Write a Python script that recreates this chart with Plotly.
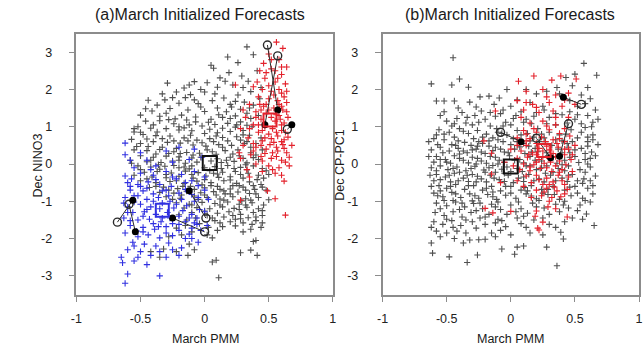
import plotly.graph_objects as go

# ---------------- data ----------------
x_ticks = [-1, -0.5, 0, 0.5, 1]
x_tick_text = ["-1", "-0.5", "0", "0.5", "1"]
y_ticks = [-3, -2, -1, 0, 1, 2, 3]
y_tick_text = ["-3", "-2", "-1", "0", "1", "2", "3"]

a_gray_pts = [
    (0.33,3.14),(0.18,2.87),(0.38,2.93),(0.05,2.65),(0.26,2.72),(0.07,2.57),(0.19,2.45),(0.41,2.5),
    (-0.08,2.21),(0.12,2.31),(0.29,2.36),(-0.29,2.17),(-0.16,2.04),(0.02,2.18),(0.1,2.06),(0.22,2.12),(0.34,2.22),(-0.03,2.0),(0.44,2.05),
    (-0.22,1.93),(-0.11,1.86),(0.0,1.93),(0.26,1.85),(0.36,1.94),(0.15,1.77),(0.06,1.7),(-0.05,1.62),(-0.2,1.63),(-0.31,1.72),(-0.44,1.71),(0.31,1.66),(0.2,1.6),(-0.37,1.58),(0.43,1.75),(-0.15,1.78),
    (-0.27,1.49),(-0.13,1.45),(0.0,1.41),(0.1,1.5),(0.21,1.53),(0.38,1.58),(0.42,1.3),(0.33,1.36),(0.24,1.29),(0.14,1.25),(0.05,1.2),(-0.07,1.26),(-0.18,1.31),(-0.3,1.36),(-0.41,1.42),(-0.5,1.31),(-0.23,1.21),(0.28,1.47),(-0.46,1.48),(0.17,1.4),(-0.03,1.53),
    (-0.46,1.15),(-0.35,1.16),(-0.24,1.08),(-0.12,1.05),(-0.02,1.02),(0.08,1.06),(0.18,1.09),(0.28,1.13),(0.37,1.0),(0.3,0.9),(0.2,0.87),(0.1,0.84),(0.0,0.82),(-0.1,0.89),(-0.2,0.91),(-0.3,0.95),(-0.42,0.96),(-0.52,1.0),(-0.55,0.86),(-0.37,0.86),(-0.16,0.97),(0.04,0.93),(0.24,0.99),(0.14,0.96),(-0.07,1.13),(0.33,1.04),(-0.28,1.19),(-0.5,0.85),
    (-0.48,0.79),(-0.38,0.76),(-0.27,0.75),(-0.16,0.7),(-0.06,0.64),(0.04,0.68),(0.14,0.71),(0.25,0.73),(0.35,0.77),(0.4,0.55),(0.31,0.55),(0.21,0.5),(0.11,0.52),(0.01,0.48),(-0.09,0.51),(-0.19,0.56),(-0.29,0.58),(-0.4,0.6),(-0.5,0.55),(-0.33,0.45),(-0.22,0.42),(-0.13,0.62),(0.07,0.6),(0.18,0.62),(0.28,0.64),(-0.44,0.47),(0.44,0.7),(-0.02,0.57),(0.36,0.45),(-0.57,0.66),
    (-0.55,0.38),(-0.45,0.36),(-0.35,0.39),(-0.24,0.33),(-0.14,0.31),(-0.04,0.29),(0.06,0.33),(0.16,0.36),(0.26,0.38),(0.36,0.3),(0.3,0.15),(0.2,0.18),(0.1,0.14),(-0.1,0.16),(-0.2,0.19),(-0.3,0.21),(-0.4,0.18),(-0.5,0.22),(-0.45,0.06),(-0.34,0.04),(-0.25,0.08),(-0.15,0.02),(-0.06,0.05),(0.13,0.04),(0.23,0.07),(0.33,0.03),(0.42,0.12),(-0.58,0.1),(0.09,0.26),(-0.19,0.28),(0.22,0.27),(0.4,0.24),(-0.38,0.27),(-0.03,0.18),
    (-0.52,-0.05),(-0.42,-0.08),(-0.31,-0.06),(-0.2,-0.1),(-0.1,-0.05),(0.08,-0.07),(0.18,-0.04),(0.28,-0.09),(0.38,-0.05),(0.45,-0.12),(-0.47,-0.22),(-0.37,-0.2),(-0.26,-0.24),(-0.15,-0.19),(-0.05,-0.23),(0.04,-0.18),(0.14,-0.22),(0.24,-0.2),(0.34,-0.25),(0.42,-0.3),(-0.55,-0.3),(-0.41,-0.35),(-0.3,-0.37),(-0.2,-0.33),(-0.09,-0.38),(0.01,-0.32),(0.11,-0.36),(0.2,-0.34),(0.3,-0.38),(0.5,-0.28),(-0.12,-0.13),(0.23,-0.12),(0.33,-0.15),(-0.35,-0.14),(0.1,-0.27),(-0.24,-0.04),
    (-0.5,-0.45),(-0.38,-0.5),(-0.27,-0.47),(-0.16,-0.52),(-0.06,-0.46),(0.05,-0.5),(0.15,-0.45),(0.25,-0.52),(0.35,-0.48),(0.44,-0.55),(-0.43,-0.63),(-0.32,-0.62),(-0.21,-0.66),(-0.11,-0.6),(0.0,-0.64),(0.1,-0.6),(0.2,-0.67),(0.3,-0.62),(0.39,-0.68),(0.48,-0.7),(-0.35,-0.76),(-0.24,-0.78),(-0.03,-0.77),(0.07,-0.74),(0.16,-0.8),(0.26,-0.75),(0.35,-0.79),(-0.14,-0.73),(0.22,-0.58),(-0.02,-0.56),(0.12,-0.68),(0.41,-0.42),
    (-0.3,-0.88),(-0.19,-0.92),(-0.08,-0.86),(0.02,-0.9),(0.12,-0.94),(0.22,-0.88),(0.32,-0.93),(0.42,-0.9),(0.5,-0.96),(-0.22,-1.04),(-0.12,-1.08),(-0.02,-1.03),(0.08,-1.06),(0.18,-1.02),(0.27,-1.08),(0.37,-1.04),(0.46,-1.1),(-0.06,-1.17),(0.04,-1.2),(0.14,-1.15),(0.23,-1.19),(0.33,-1.16),(0.42,-1.2),(-0.16,-1.18),(0.29,-0.99),(0.09,-0.83),
    (-0.1,-1.3),(0.1,-1.32),(0.19,-1.28),(0.28,-1.35),(0.38,-1.3),(0.45,-1.38),(-0.2,-1.36),(0.06,-1.45),(0.15,-1.42),(0.24,-1.48),(0.34,-1.44),(0.4,-1.52),(-0.14,-1.5),(0.12,-1.58),(0.3,-1.58),(0.37,-1.62),(-0.04,-1.6),(0.2,-1.55),
    (0.03,-1.7),(0.1,-1.78),(0.36,-1.75),(0.4,-2.05),(-0.1,-1.82),(0.02,-1.9),(-0.22,-1.72),(0.14,-1.68),(-0.28,-1.95),
    (0.38,-2.08),(0.36,-2.31),(-0.22,-2.35),(-0.13,-2.45),(0.28,-2.38),(0.41,-2.45),(-0.08,-2.3),(0.06,-2.63),(-0.32,-2.28),(0.11,-3.05),(0.09,-2.58),(-0.12,-2.15),(-0.35,-2.5),(-0.42,-2.35),
    (-0.33,1.88),(-0.12,2.12),(0.16,2.22),(0.3,2.05),(0.08,1.88),(-0.25,1.78),(0.24,1.68),(-0.08,1.72),(0.35,1.5),(-0.35,1.28),(-0.14,1.18),(0.11,1.32),(0.2,1.22),(0.36,1.22),(-0.4,1.05),
    (-0.2,1.0),(0.03,1.12),(0.25,1.05),(-0.55,0.95),(-0.33,0.68),(-0.11,0.77),(0.09,0.75),(0.3,0.78),(-0.45,0.67),(-0.24,0.62),(0.02,0.38),(0.14,0.45),(0.33,0.6),(-0.53,0.47),(-0.28,0.28),
    (-0.09,0.24),(0.27,0.22),(0.45,0.38),(-0.42,0.1),(-0.2,0.1),(0.05,0.08),(0.17,0.1),(0.38,0.17),(-0.57,0.02),(-0.36,-0.02),(-0.16,-0.08),(0.0,-0.1),(0.13,-0.12),(0.32,-0.02),(0.48,-0.18),
    (-0.5,-0.15),(-0.3,-0.28),(-0.1,-0.28),(0.07,-0.25),(0.28,-0.28),(0.46,-0.38),(-0.45,-0.4),(-0.22,-0.45),(0.0,-0.42),(0.2,-0.43),(0.38,-0.58),(-0.38,-0.6),(-0.17,-0.6),(0.05,-0.58),(0.27,-0.58),
    (0.45,-0.62),(-0.28,-0.7),(-0.08,-0.68),(0.15,-0.72),(0.32,-0.7),(-0.18,-0.83),(0.0,-0.83),(0.2,-0.8),(0.4,-0.8),(-0.25,-0.95),(-0.05,-0.95),(0.15,-0.97),(0.36,-0.97),(-0.1,-1.1),(0.12,-1.1),
    (0.32,-1.1),(0.0,-1.26),(0.27,-1.22),(0.45,-1.25),(0.02,-1.38),(0.22,-1.38),(0.4,-1.42),(0.08,-1.52),(0.28,-1.47),(-0.07,-1.45),(0.24,-1.66),(0.45,-1.58),(-0.15,-1.65),(0.06,-1.98),(-0.18,-1.9),
    (0.3,-1.82),(0.44,-1.7),
]

a_blue_pts = [
    (-0.62,0.56),(-0.62,0.25),(-0.5,0.3),(-0.45,0.1),(-0.3,0.35),(-0.2,0.45),(-0.08,0.4),(-0.02,0.18),(-0.12,0.12),(-0.25,0.05),(-0.38,-0.05),(-0.55,-0.1),
    (-0.62,-0.32),(-0.5,-0.25),(-0.4,-0.3),(-0.3,-0.2),(-0.18,-0.28),(-0.08,-0.2),(0.0,-0.35),(-0.6,-0.5),(-0.52,-0.55),(-0.44,-0.48),(-0.35,-0.55),(-0.26,-0.6),
    (-0.15,-0.5),(-0.05,-0.58),(-0.58,-0.7),(-0.48,-0.72),(-0.4,-0.8),(-0.3,-0.7),(-0.2,-0.78),(-0.1,-0.82),(0.0,-0.7),(-0.62,-0.9),(-0.52,-0.85),(-0.45,-0.95),
    (-0.36,-0.9),(-0.27,-1.0),(-0.18,-0.95),(-0.08,-1.0),(0.03,-0.95),(-0.6,-1.15),(-0.5,-1.08),(-0.42,-1.15),(-0.33,-1.05),(-0.24,-1.18),(-0.14,-1.12),(-0.04,-1.22),
    (-0.56,-1.3),(-0.47,-1.28),(-0.38,-1.35),(-0.29,-1.3),(-0.2,-1.4),(-0.1,-1.35),(0.0,-1.28),(-0.63,-1.45),(-0.52,-1.5),(-0.43,-1.48),(-0.34,-1.55),(-0.25,-1.6),
    (-0.15,-1.55),(-0.06,-1.62),(-0.58,-1.65),(-0.48,-1.7),(-0.39,-1.75),(-0.3,-1.68),(-0.2,-1.78),(-0.1,-1.72),(0.02,-1.65),(-0.62,-1.85),(-0.52,-1.95),(-0.44,-1.9),
    (-0.35,-1.98),(-0.25,-1.92),(-0.15,-2.0),(-0.56,-2.1),(-0.47,-2.15),(-0.38,-2.2),(-0.28,-2.12),(-0.18,-2.25),(-0.6,-2.3),(-0.5,-2.35),(-0.42,-2.45),(-0.65,-2.5),
    (-0.64,-2.65),(-0.55,-2.6),(-0.45,-2.7),(-0.3,-2.5),(-0.2,-2.45),(-0.6,-2.95),(-0.62,-3.2),(-0.35,-3.0),(-0.05,-2.1),(-0.1,-0.45),(-0.45,-0.65),(-0.55,-1.02),
    (-0.33,-1.45),(-0.12,-1.88),(-0.22,-0.4),(-0.57,-0.4),(-0.48,-1.4),(-0.4,-1.6),(-0.53,-1.8),(-0.28,-0.85),(-0.06,-1.45),(-0.17,-1.25),
    (-0.58,0.1),(-0.42,-0.15),(-0.25,-0.35),(-0.5,-0.6),(-0.33,-0.72),(-0.15,-0.68),(-0.55,-0.85),(-0.4,-1.0),(-0.22,-1.08),(-0.05,-0.9),(-0.6,-1.3),(-0.45,-1.22),
    (-0.27,-1.45),(-0.12,-1.45),(-0.58,-1.52),(-0.36,-1.68),(-0.2,-1.62),(-0.03,-1.78),(-0.48,-1.82),(-0.3,-1.85),(-0.1,-2.0),(-0.55,-2.2),(-0.35,-2.35),(-0.52,-2.5),
    (-0.25,-2.3),(-0.58,-0.6),(-0.38,-0.42),(-0.63,-1.05),(-0.35,-1.2),(-0.08,-1.58),
]

a_red_pts = [
    (0.56,3.27),(0.61,3.1),(0.5,2.95),(0.58,2.8),(0.64,2.6),(0.43,2.5),(0.52,2.55),(0.6,2.4),(0.47,2.3),(0.55,2.2),(0.63,2.15),(0.38,2.07),
    (0.24,2.12),(0.45,2.0),(0.52,1.95),(0.6,1.9),(0.42,1.8),(0.5,1.75),(0.57,1.7),(0.64,1.65),(0.35,1.6),(0.46,1.55),(0.54,1.5),(0.61,1.45),
    (0.4,1.4),(0.48,1.35),(0.58,1.3),(0.65,1.25),(0.32,1.25),(0.44,1.2),(0.55,1.15),(0.62,1.1),(0.38,1.05),(0.47,1.0),(0.53,0.95),(0.6,0.9),
    (0.28,0.95),(0.42,0.85),(0.5,0.8),(0.57,0.75),(0.65,0.72),(0.34,0.7),(0.45,0.62),(0.54,0.58),(0.61,0.52),(0.3,0.5),(0.4,0.45),(0.48,0.4),
    (0.57,0.35),(0.64,0.3),(0.36,0.25),(0.44,0.2),(0.52,0.15),(0.6,0.1),(0.28,0.15),(0.4,0.0),(0.5,-0.05),(0.58,-0.1),(0.66,-0.05),(0.33,-0.15),
    (0.45,-0.2),(0.55,-0.25),(0.62,-0.46),(0.35,-0.35),(0.49,-0.72),(0.55,-0.93),(0.28,-0.97),(0.63,-1.37),(0.46,2.7),(0.55,2.5),(0.5,2.1),(0.58,1.6),
    (0.44,1.45),(0.52,1.25),(0.47,0.7),(0.38,0.55),(0.62,0.65),(0.3,1.45),(0.27,0.3),(0.58,2.0),(0.68,0.5),(0.42,1.05),(0.35,0.95),(0.53,0.3),
    (0.6,1.05),(0.64,1.95),(0.66,0.18),(0.56,0.45),
    (0.52,2.8),(0.6,2.6),(0.48,2.45),(0.57,2.3),(0.41,2.2),(0.62,1.8),(0.54,1.85),(0.48,1.6),(0.6,1.55),(0.43,1.6),(0.5,1.45),(0.64,1.4),
    (0.56,1.32),(0.4,1.25),(0.59,1.2),(0.45,0.9),(0.56,0.85),(0.63,0.85),(0.52,0.68),(0.6,0.6),(0.44,0.5),(0.51,0.52),(0.62,0.42),(0.47,0.28),
    (0.56,0.2),(0.63,0.05),(0.45,0.08),(0.53,-0.15),(0.6,-0.3),(0.38,0.35),
]

b_gray_pts = [
    (-0.45,2.85),(-0.62,2.15),(-0.46,2.12),(-0.4,2.28),(-0.33,2.06),(-0.58,1.69),(-0.52,1.69),(-0.44,1.69),(-0.32,1.66),(-0.24,1.8),(-0.17,1.82),(-0.09,1.77),
    (-0.03,2.0),(-0.41,1.5),(-0.27,1.53),(0.57,2.7),(0.67,2.38),(0.5,2.41),(0.43,2.32),(0.12,2.0),(0.2,1.88),(0.28,1.95),(0.36,2.05),(0.48,2.1),
    (0.6,2.05),(0.55,1.85),(0.62,1.75),(0.46,1.7),(0.38,1.88),(0.05,1.72),(0.15,1.65),(0.25,1.55),(0.52,1.55),(0.66,1.45),(-0.13,1.6),(0.0,1.55),(-0.06,1.45),(0.58,1.62),
    (-0.5,1.15),(-0.42,1.22),(-0.35,1.1),(-0.28,1.3),(-0.2,1.2),(-0.12,1.28),(-0.04,1.12),(0.04,1.3),(0.12,1.2),(0.2,1.38),(0.3,1.25),(0.4,1.32),
    (0.5,1.2),(0.6,1.3),(0.68,1.2),(-0.46,1.02),(-0.38,1.38),(-0.3,1.05),(-0.23,1.42),(-0.16,1.02),(-0.08,1.35),(0.0,1.05),(0.08,1.4),(0.16,1.08),
    (0.26,1.45),(0.35,1.05),(0.46,1.4),(0.55,1.08),(0.63,1.0),(-0.55,1.3),
    (-0.56,0.92),(-0.48,0.85),(-0.4,0.95),(-0.33,0.82),(-0.26,0.9),(-0.19,0.8),(-0.11,0.95),(-0.03,0.78),(0.05,0.9),(0.13,0.82),(0.21,0.95),(0.3,0.85),
    (0.38,0.78),(0.47,0.92),(0.55,0.85),(0.64,0.78),(-0.52,0.65),(-0.44,0.72),(-0.36,0.58),(-0.29,0.68),(-0.22,0.55),(-0.14,0.7),(-0.06,0.6),(0.02,0.68),
    (0.1,0.55),(0.18,0.72),(0.27,0.6),(0.35,0.65),(0.44,0.55),(0.52,0.7),(0.6,0.6),(0.68,0.52),(-0.58,0.78),(-0.46,0.52),(-0.31,0.5),(-0.17,0.62),
    (0.0,0.52),(0.15,0.62),(0.4,0.62),(-0.1,0.85),(0.24,0.8),
    (-0.64,0.6),(-0.62,0.38),(-0.55,0.45),(-0.48,0.35),(-0.41,0.42),(-0.34,0.3),(-0.27,0.4),(-0.2,0.28),(-0.12,0.45),(-0.05,0.32),(0.03,0.4),(0.11,0.28),
    (0.19,0.42),(0.28,0.3),(0.37,0.4),(0.46,0.3),(0.55,0.42),(0.63,0.32),(-0.58,0.2),(-0.51,0.12),(-0.44,0.22),(-0.37,0.1),(-0.3,0.18),(-0.23,0.08),
    (-0.16,0.2),(-0.09,0.1),(-0.01,0.22),(0.07,0.12),(0.15,0.2),(0.24,0.08),(0.33,0.18),(0.42,0.1),(0.5,0.2),(0.58,0.12),(0.66,0.22),(-0.6,0.05),
    (-0.47,0.02),(-0.33,0.03),(-0.19,0.02),(-0.05,0.04),(0.1,0.03),(0.36,0.02),(0.53,0.04),(-0.26,0.48),(0.07,0.46),(-0.4,0.27),(-0.14,0.36),(0.21,0.33),(0.45,0.45),
    (-0.62,-0.1),(-0.55,-0.05),(-0.49,-0.15),(-0.42,-0.08),(-0.35,-0.18),(-0.28,-0.06),(-0.21,-0.16),(-0.14,-0.04),(-0.07,-0.14),(0.05,-0.12),(0.12,-0.05),(0.2,-0.15),
    (0.28,-0.05),(0.37,-0.12),(0.45,-0.05),(0.54,-0.15),(0.62,-0.08),(-0.58,-0.28),(-0.51,-0.35),(-0.44,-0.25),(-0.37,-0.38),(-0.3,-0.28),(-0.23,-0.4),(-0.16,-0.3),
    (-0.09,-0.42),(-0.02,-0.3),(0.06,-0.38),(0.14,-0.28),(0.22,-0.4),(0.31,-0.3),(0.4,-0.38),(0.48,-0.28),(0.57,-0.4),(0.66,-0.32),(-0.6,-0.45),(-0.47,-0.48),
    (-0.33,-0.47),(-0.19,-0.48),(-0.05,-0.47),(0.1,-0.47),(0.26,-0.48),(0.44,-0.47),(-0.4,-0.22),(-0.12,-0.22),(0.0,-0.2),(0.33,-0.22),(-0.26,-0.33),(0.52,-0.45),
    (-0.56,-0.58),(-0.5,-0.65),(-0.43,-0.55),(-0.36,-0.68),(-0.29,-0.58),(-0.22,-0.7),(-0.15,-0.6),(-0.08,-0.72),(0.0,-0.6),(0.08,-0.7),(0.16,-0.58),(0.24,-0.68),
    (0.33,-0.6),(0.42,-0.7),(0.5,-0.6),(0.6,-0.65),(-0.6,-0.78),(-0.53,-0.88),(-0.46,-0.76),(-0.39,-0.9),(-0.32,-0.8),(-0.25,-0.92),(-0.18,-0.82),(-0.11,-0.95),
    (-0.04,-0.84),(0.04,-0.92),(0.12,-0.8),(0.2,-0.93),(0.29,-0.82),(0.38,-0.95),(0.47,-0.85),(0.56,-0.92),(0.64,-0.8),(-0.45,-0.98),(-0.3,-0.99),(-0.14,-0.75),
    (0.25,-0.78),(-0.55,-0.72),(0.11,-0.63),
    (-0.58,-1.05),(-0.5,-1.12),(-0.43,-1.02),(-0.36,-1.15),(-0.29,-1.06),(-0.22,-1.2),(-0.15,-1.08),(-0.08,-1.22),(0.0,-1.1),(0.08,-1.2),(0.17,-1.05),(0.26,-1.18),
    (0.35,-1.08),(0.45,-1.18),(0.54,-1.1),(0.62,-1.02),(-0.59,-1.3),(-0.52,-1.38),(-0.45,-1.28),(-0.38,-1.42),(-0.31,-1.3),(-0.24,-1.45),(-0.17,-1.35),(-0.1,-1.48),
    (-0.03,-1.35),(0.05,-1.45),(0.13,-1.32),(0.3,-1.35),(0.38,-1.28),(0.59,-1.34),(0.56,-1.48),(-0.6,-1.55),(-0.53,-1.62),(-0.46,-1.52),(-0.39,-1.65),(-0.3,-1.55),
    (-0.2,-1.62),(-0.12,-1.58),(-0.04,-1.68),(0.08,-1.6),(0.18,-1.5),(0.3,-1.62),(0.42,-1.55),(0.65,-1.65),(-0.62,-1.7),
    (-0.62,-2.12),(-0.61,-2.39),(-0.48,-2.49),(-0.34,-2.64),(-0.26,-2.44),(-0.37,-2.12),(-0.32,-2.04),(-0.25,-2.03),(-0.2,-2.02),(-0.12,-1.95),(-0.07,-2.28),(0.03,-2.42),
    (0.1,-2.2),(0.05,-2.23),(0.28,-2.23),(0.36,-2.73),(0.41,-2.01),(0.39,-1.83),(-0.5,-1.85),(-0.44,-2.0),(-0.55,-1.95),(0.15,-1.85),(-0.58,-1.8),(-0.42,-1.8),
    (0.0,-1.9),(0.25,-1.9),
    (-0.52,1.4),(-0.34,1.25),(-0.16,1.38),(0.02,1.22),(0.18,1.28),(0.35,1.35),(0.52,1.32),(0.64,1.12),(-0.44,1.08),(-0.25,1.12),(-0.06,1.02),(0.1,1.12),
    (0.28,1.08),(0.44,1.1),(0.58,0.98),(-0.52,0.8),(-0.37,0.88),(-0.22,0.72),(-0.07,0.82),(0.08,0.78),(0.26,0.7),(0.43,0.8),(0.6,0.72),(-0.6,0.68),
    (-0.41,0.62),(-0.25,0.6),(-0.1,0.65),(0.05,0.6),(0.22,0.6),(0.48,0.6),(0.64,0.65),(-0.57,0.52),(-0.43,0.5),(-0.3,0.38),(-0.17,0.48),(-0.08,0.4),
    (0.14,0.48),(0.32,0.5),(0.5,0.38),(0.6,0.48),(-0.53,0.3),(-0.37,0.35),(-0.23,0.32),(-0.02,0.3),(0.16,0.32),(0.4,0.3),(0.58,0.28),(-0.55,0.12),
    (-0.4,0.15),(-0.26,0.15),(-0.12,0.18),(0.03,0.1),(0.19,0.1),(0.29,0.22),(0.46,0.18),(0.62,0.15),(-0.64,0.2),(-0.5,0.05),(-0.27,-0.0),(-0.1,0.0),
    (0.15,-0.05),(0.4,-0.02),(0.6,0.0),(-0.58,-0.18),(-0.45,-0.12),(-0.31,-0.12),(-0.17,-0.1),(-0.03,-0.08),(0.09,-0.2),(0.24,-0.1),(0.42,-0.18),(0.58,-0.22),
    (-0.63,-0.3),(-0.48,-0.3),(-0.34,-0.3),(-0.2,-0.22),(-0.05,-0.25),(0.1,-0.35),(0.27,-0.25),(0.45,-0.3),(0.62,-0.45),(-0.55,-0.42),(-0.41,-0.45),(-0.27,-0.48),
    (-0.13,-0.38),(0.02,-0.5),(0.18,-0.45),(0.35,-0.45),(0.56,-0.52),(-0.62,-0.6),(-0.47,-0.6),(-0.33,-0.58),(-0.19,-0.65),(-0.04,-0.6),(0.13,-0.72),(0.29,-0.68),
    (0.46,-0.62),(0.64,-0.58),(-0.57,-0.85),(-0.43,-0.8),(-0.28,-0.85),(-0.14,-0.88),(0.0,-0.78),(0.16,-0.86),(0.34,-0.82),(0.52,-0.78),(-0.52,-0.98),(-0.38,-1.05),
    (-0.24,-1.05),(-0.1,-1.02),(0.06,-1.02),(0.22,-0.98),(0.42,-1.0),(0.58,-0.98),(-0.55,-1.2),(-0.4,-1.22),(-0.27,-1.25),(-0.12,-1.15),(0.04,-1.28),(0.2,-1.15),
    (0.41,-1.1),(0.52,-1.25),(-0.5,-1.48),(-0.35,-1.5),(-0.2,-1.42),(-0.07,-1.52),(0.1,-1.4),(0.25,-1.45),(0.48,-1.45),(-0.45,-1.7),(-0.27,-1.72),(-0.08,-1.78),
    (0.12,-1.7),(0.35,-1.7),(-0.35,-1.85),(-0.15,-1.85),
]

b_red_pts = [
    (0.18,2.36),(0.06,2.22),(0.32,2.25),(0.39,2.36),(0.51,2.28),(0.12,1.95),(0.25,2.0),(0.35,1.85),(0.45,1.9),(0.05,1.7),(0.17,1.6),(0.3,1.65),
    (0.4,1.55),(0.1,1.45),(0.22,1.38),(0.33,1.42),(0.45,1.25),(-0.12,1.42),(0.5,1.6),(0.08,1.25),
    (0.15,1.1),(0.25,1.15),(0.35,1.05),(0.42,0.95),(0.1,0.9),(0.2,0.85),(0.3,0.92),(0.38,0.82),(0.46,0.75),(0.05,0.7),(0.15,0.68),(0.24,0.72),
    (0.33,0.65),(0.42,0.6),(0.12,0.5),(0.2,0.55),(0.28,0.48),(0.37,0.45),(0.45,0.4),(0.08,0.35),(0.17,0.3),(0.25,0.35),(0.33,0.28),(0.42,0.25),
    (0.05,0.15),(0.13,0.18),(0.22,0.12),(0.3,0.15),(0.38,0.08),(0.47,0.12),(0.1,0.0),(0.18,-0.02),(0.26,0.02),(0.35,-0.05),(0.43,-0.02),(0.07,-0.15),
    (0.15,-0.18),(0.23,-0.12),(0.32,-0.2),(0.4,-0.15),(0.12,-0.32),(0.2,-0.3),(0.28,-0.38),(0.37,-0.3),(0.45,-0.35),(0.05,-0.45),(0.16,-0.5),(0.25,-0.55),
    (0.33,-0.48),(0.42,-0.55),(0.2,-0.7),(0.28,-0.65),(0.36,-0.72),(0.44,-0.68),(0.24,-0.85),(0.32,-0.9),(0.39,-0.88),(0.29,-1.15),(-0.21,0.62),(-0.15,0.29),
    (-0.15,-0.27),(-0.2,-1.19),(-0.14,-1.31),(0.0,-1.27),(0.2,-1.26),(0.21,-1.72),(0.25,-1.56),(0.44,-1.42),(0.19,-1.4),(0.22,-1.77),(0.35,-1.2),(0.0,0.4),
    (-0.05,0.05),(0.5,0.5),(0.48,-0.2),(0.27,0.6),(0.18,0.95),(0.36,0.55),(0.1,-0.6),(0.02,-0.05),(0.3,-1.0),(-0.08,-0.5),
    (0.12,1.65),(0.28,1.8),(0.42,1.72),(0.2,1.52),(0.35,1.25),(0.28,1.02),(0.12,0.8),(0.38,0.68),(0.22,0.42),(0.3,0.38),(0.14,0.25),(0.35,0.2),
    (0.25,0.2),(0.2,0.05),(0.31,0.05),(0.42,0.4),(0.15,-0.08),(0.28,-0.1),(0.38,-0.22),(0.22,-0.42),(0.3,-0.55),(0.4,-0.45),(0.26,-0.75),(0.34,-0.62),
    (0.16,-0.9),(0.42,-0.8),(0.12,0.62),(0.48,0.25),(0.05,0.5),(0.2,0.25),
]

# ensemble-mean squares: (x, y)
a_gray_center = (0.04, 0.03)
a_blue_center = (-0.33, -1.24)
a_red_center = (0.51, 1.18)
b_gray_center = (0.0, -0.07)
b_red_center = (0.26, 0.36)

# observed (open circle) / forecast (filled dot) pairs
a_open = [(0.49, 3.19), (0.57, 2.9), (0.645, 0.93), (-0.68, -1.56), (-0.59, -1.08), (0.01, -1.45), (0.0, -1.82)]
a_filled = [(0.57, 1.45), (0.47, 1.05), (0.68, 1.05), (-0.56, -0.97), (-0.54, -1.82), (-0.12, -0.72), (-0.25, -1.45)]
b_open = [(0.55, 1.6), (0.45, 1.08), (0.2, 0.69), (-0.08, 0.85)]
b_filled = [(0.41, 1.79), (0.38, 0.21), (0.31, 0.17), (0.08, 0.6)]

# ---------------- figure ----------------
GRAY = "#505050"
BLUE = "#3030e0"
RED = "#e3212b"
DARK = "#2a2a2a"
FONT = "Liberation Sans, Arial, sans-serif"

fig = go.Figure()


def cloud(pts, color, xa, ya):
    fig.add_trace(go.Scatter(
        x=[p[0] for p in pts], y=[p[1] for p in pts], mode="markers",
        marker=dict(symbol="cross-thin", size=4.5, color=color, line=dict(width=1.1, color=color)),
        xaxis=xa, yaxis=ya, hoverinfo="skip", showlegend=False))


def pairs(opn, fil, xa, ya):
    lx, ly = [], []
    for o, f in zip(opn, fil):
        lx += [o[0], f[0], None]
        ly += [o[1], f[1], None]
    fig.add_trace(go.Scatter(x=lx, y=ly, mode="lines", line=dict(color=DARK, width=1),
                             xaxis=xa, yaxis=ya, hoverinfo="skip", showlegend=False))
    fig.add_trace(go.Scatter(x=[p[0] for p in opn], y=[p[1] for p in opn], mode="markers",
                             marker=dict(symbol="circle-open", size=8, color=DARK, line=dict(width=1.4, color=DARK)),
                             xaxis=xa, yaxis=ya, hoverinfo="skip", showlegend=False))
    fig.add_trace(go.Scatter(x=[p[0] for p in fil], y=[p[1] for p in fil], mode="markers",
                             marker=dict(symbol="circle", size=7, color="#000000"),
                             xaxis=xa, yaxis=ya, hoverinfo="skip", showlegend=False))


def square(c, color, xa, ya, size=13):
    fig.add_trace(go.Scatter(x=[c[0]], y=[c[1]], mode="markers",
                             marker=dict(symbol="square-open", size=size, color=color, line=dict(width=2, color=color)),
                             xaxis=xa, yaxis=ya, hoverinfo="skip", showlegend=False))


cloud(a_gray_pts, GRAY, "x", "y")
cloud(a_blue_pts, BLUE, "x", "y")
cloud(a_red_pts, RED, "x", "y")
pairs(a_open, a_filled, "x", "y")
square(a_gray_center, "#111111", "x", "y", 14)
square(a_blue_center, BLUE, "x", "y", 13)
square(a_red_center, RED, "x", "y", 13)

cloud(b_gray_pts, GRAY, "x2", "y2")
cloud(b_red_pts, RED, "x2", "y2")
pairs(b_open, b_filled, "x2", "y2")
square(b_gray_center, "#111111", "x2", "y2", 14)
square(b_red_center, RED, "x2", "y2", 13)

W, H = 644, 349
top_px, bot_px = 33.5, 294.5
ydom = [1 - bot_px / H, 1 - top_px / H]

axis_common = dict(showgrid=False, zeroline=False, showline=True, mirror=True,
                   linecolor="#8c8c8c", linewidth=1.5, ticks="outside", ticklen=6,
                   tickcolor="#8c8c8c", tickwidth=1.2,
                   tickfont=dict(family=FONT, size=12.5, color="#222222"))

fig.update_layout(
    width=W, height=H, margin=dict(l=0, r=0, t=0, b=0),
    paper_bgcolor="white", plot_bgcolor="white",
    xaxis=dict(domain=[71.5 / W, 332 / W], range=[-1, 1], tickvals=x_ticks, ticktext=x_tick_text,
               anchor="y", ticklabelstandoff=6, **axis_common),
    yaxis=dict(domain=ydom, range=[-3.5, 3.5], tickvals=y_ticks, ticktext=y_tick_text,
               anchor="x", ticklabelstandoff=14, **axis_common),
    xaxis2=dict(domain=[382.5 / W, 643 / W], range=[-1, 1], tickvals=x_ticks, ticktext=x_tick_text,
                anchor="y2", ticklabelstandoff=6, **axis_common),
    yaxis2=dict(domain=ydom, range=[-3.5, 3.5], tickvals=y_ticks, ticktext=y_tick_text,
                anchor="x2", ticklabelstandoff=14, **axis_common),
)

titles = [
    ("(a)March Initialized Forecasts", 197, 14, 16, 0),
    ("(b)March Initialized Forecasts", 512, 14, 16, 0),
    ("March PMM", 203, 339, 12.5, 0),
    ("March PMM", 512, 339, 12.5, 0),
    ("Dec NINO3", 33, 165, 12.5, -90),
    ("Dec CP-PC1", 339, 165, 12.5, -90),
]
for txt, px, py, fs, ang in titles:
    fig.add_annotation(text=txt, x=px / W, y=1 - py / H, xref="paper", yref="paper",
                       showarrow=False, textangle=ang, xanchor="center", yanchor="middle",
                       font=dict(family=FONT, size=fs, color="#1a1a1a"))

fig.write_html("out.html")
